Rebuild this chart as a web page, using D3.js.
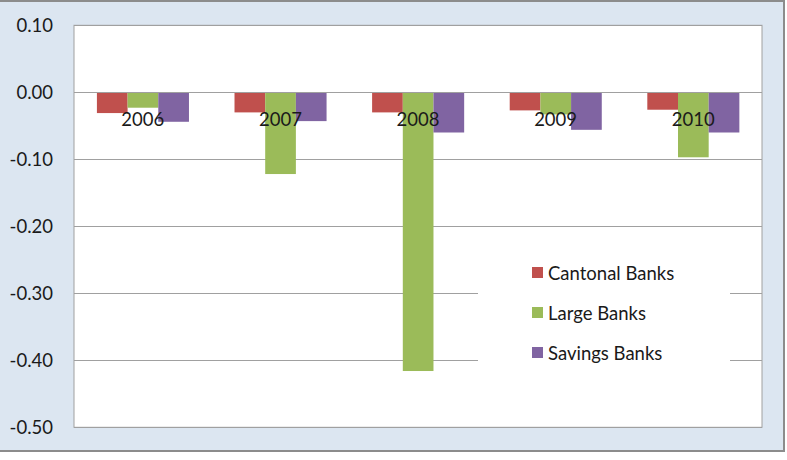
<!DOCTYPE html>
<html>
<head>
<meta charset="utf-8">
<script src="https://cdn.jsdelivr.net/npm/d3@7"></script>
<style>
  body { margin: 0; background: #ffffff; }
  svg { display: block; }
  text { font-family: Lato, "Open Sans", sans-serif; fill: #1a1a1a; }
</style>
</head>
<body>
<svg id="chart" width="787" height="460"></svg>
<script>
const years = ["2006", "2007", "2008", "2009", "2010"];
const seriesNames = ["Cantonal Banks", "Large Banks", "Savings Banks"];
const cantonalBanks = [-0.031, -0.030, -0.030, -0.027, -0.026];
const largeBanks = [-0.023, -0.122, -0.416, -0.033, -0.097];
const savingsBanks = [-0.044, -0.043, -0.060, -0.056, -0.060];
const yTicks = [0.10, 0.00, -0.10, -0.20, -0.30, -0.40, -0.50];
const colors = ["#c0504d", "#9bbb59", "#8064a2"];

const seriesValues = [cantonalBanks, largeBanks, savingsBanks];
const svg = d3.select("#chart");
const fmt = d3.formatLocale({ decimal: ".", thousands: ",", grouping: [3], currency: ["", ""], minus: "-" }).format(".2f");

// outer chart area
svg.append("rect")
  .attr("x", -1).attr("y", 1).attr("width", 785).attr("height", 450)
  .attr("fill", "#dce6f1").attr("stroke", "#8c8c8c").attr("stroke-width", 2);

const plot = { left: 74, right: 762, top: 25.3, bottom: 427.3 };

svg.append("rect")
  .attr("x", plot.left).attr("y", plot.top)
  .attr("width", plot.right - plot.left).attr("height", plot.bottom - plot.top)
  .attr("fill", "#ffffff").attr("stroke", "#a0a0a0").attr("stroke-width", 1);

const y = d3.scaleLinear().domain([-0.5, 0.1]).range([plot.bottom, plot.top]);
const x = d3.scaleBand().domain(years).range([plot.left, plot.right]).padding(0);
const bw = x.bandwidth();
const xs = d3.scaleBand().domain(seriesNames).range([bw * 0.1665, bw * 0.8355]).padding(0);

// gridlines
svg.append("g").selectAll("line").data(yTicks).join("line")
  .attr("x1", plot.left).attr("x2", plot.right)
  .attr("y1", d => Math.round(y(d)) + 0.5).attr("y2", d => Math.round(y(d)) + 0.5)
  .attr("stroke", "#a0a0a0").attr("stroke-width", 1);

// y tick labels
svg.append("g").selectAll("text").data(yTicks).join("text")
  .attr("x", 53).attr("y", d => y(d))
  .attr("text-anchor", "end").attr("dominant-baseline", "central")
  .style("font-size", "18.5px")
  .text(d => fmt(d));

// bars
const rows = [];
years.forEach((yr, i) => seriesNames.forEach((s, j) => rows.push({ yr, s, j, v: seriesValues[j][i] })));
svg.append("g").selectAll("rect").data(rows).join("rect")
  .attr("x", d => x(d.yr) + xs(d.s))
  .attr("y", d => y(Math.max(0, d.v)) + 0.7)
  .attr("width", xs.bandwidth())
  .attr("height", d => Math.abs(y(d.v) - y(0)) - 0.7)
  .attr("fill", d => colors[d.j]);

// category labels
svg.append("g").selectAll("text").data(years).join("text")
  .attr("x", d => x(d) + bw / 2).attr("y", y(0) + 27)
  .attr("text-anchor", "middle").attr("dominant-baseline", "central")
  .style("font-size", "18.5px")
  .text(d => d);

// legend
const lg = svg.append("g");
lg.append("rect").attr("x", 478).attr("y", 252).attr("width", 252).attr("height", 124).attr("fill", "#ffffff");
const items = lg.selectAll("g").data(seriesNames).join("g")
  .attr("transform", (d, i) => `translate(0, ${273 + i * 40})`);
items.append("rect").attr("x", 532).attr("y", -6).attr("width", 11).attr("height", 11)
  .attr("fill", (d, i) => colors[i]);
items.append("text").attr("x", 548).attr("y", 0)
  .attr("dominant-baseline", "central")
  .style("font-size", "18.5px")
  .text(d => d);
</script>
</body>
</html>
